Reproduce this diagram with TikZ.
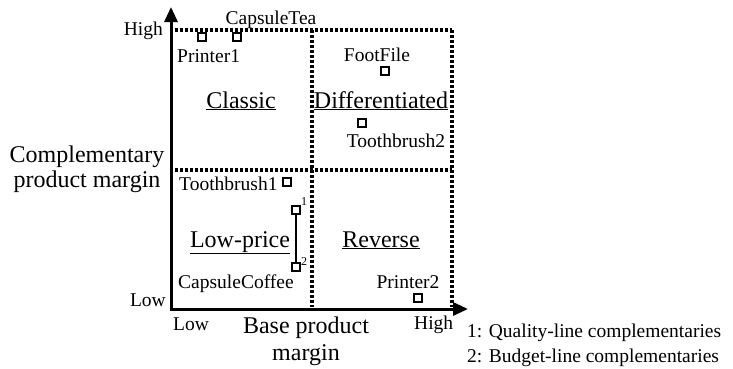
\documentclass[tikz,border=0pt]{standalone}
\usepackage{fontspec}
\setmainfont{Liberation Serif}
\usetikzlibrary{arrows.meta}
\begin{document}
\begin{tikzpicture}[x=1pt,y=-1pt,
 big/.style={font=\fontsize{24}{26}\selectfont, inner sep=0pt},
 small/.style={font=\fontsize{19.5}{21}\selectfont, inner sep=0pt},
 tiny/.style={font=\fontsize{12}{13}\selectfont, inner sep=0pt},
 sq/.style={draw, line width=2pt, minimum size=7.5pt, inner sep=0pt},
 axis/.style={line width=3pt, -{Triangle[width=13pt,length=15pt]}},
 gridline/.style={line width=3.2pt, dash pattern=on 2.6pt off 2.4pt}]
\useasboundingbox (0,0) rectangle (733,368);
% axes
\coordinate (O) at (171,309);
\coordinate (ytip) at (171,7);
\coordinate (xtip) at (468,309);
% dotted quadrant grid
\coordinate (tl) at (175,30);
\coordinate (tr) at (452,30);
\coordinate (br) at (452,307);
\coordinate (tm) at (312,30);
\coordinate (bm) at (312,307);
\coordinate (ml) at (175,170);
\coordinate (mr) at (452,170);
\draw[gridline] (tl) -- (tr);
\draw[gridline] (tr) -- (br);
\draw[gridline] (tm) -- (bm);
\draw[gridline] (ml) -- (mr);
\draw[axis, line cap=butt] ([yshift=1.5pt]O) -- (ytip);
\draw[axis] ([xshift=-1.5pt]O) -- (xtip);
% axis labels
\node[small, anchor=base east] (yhigh) at (163,35) {High};
\node[small, anchor=base east] (ylow) at (166,306) {Low};
\node[small, anchor=base west] (xlow) at (173,330) {Low};
\node[small, anchor=base west] (xhigh) at (414,329) {High};
\node[big, anchor=base] (xt1) at (306,333) {Base product};
\node[big, anchor=base] (xt2) at (306,360) {margin};
\node[big, anchor=base] (yt1) at (87,162) {Complementary};
\node[big, anchor=base] (yt2) at (87,187) {product margin};
% quadrant names
\node[big, anchor=base] (classic) at (241,108) {\underline{Classic}};
\node[big, anchor=base] (diff) at (381,108) {\underline{Differentiated}};
\node[big, anchor=base] (lowp) at (240,247) {\underline{Low-price}};
\node[big, anchor=base] (rev) at (381,247) {\underline{Reverse}};
% items
\node[sq] (p1) at (202,37) {};
\node[sq] (ct) at (237,37) {};
\node[small, anchor=base] (ctl) at (271,24) {CapsuleTea};
\node[small, anchor=base west] (p1l) at (177,62) {Printer1};
\node[small, anchor=base] (ffl) at (377,61) {FootFile};
\node[sq] (ff) at (385,71) {};
\node[sq] (tb2) at (362,123) {};
\node[small, anchor=base] (tb2l) at (396,147) {Toothbrush2};
\node[small, anchor=base west] (tb1l) at (179,190) {Toothbrush1};
\node[sq] (tb1) at (287,182) {};
\node[sq] (q1) at (296,210) {};
\node[sq] (q2) at (296,267) {};
\draw[line width=1.4pt] (q1) -- (q2);
\node[tiny, anchor=center] (n1) at (304,202) {1};
\node[tiny, anchor=center] (n2) at (304,262) {2};
\node[small, anchor=base west] (ccl) at (178,288) {CapsuleCoffee};
\node[small, anchor=base] (p2l) at (408,288) {Printer2};
\node[sq] (p2) at (418,298) {};
% legend
\node[small, anchor=base west] (leg1) at (467,337) {1: Quality-line complementaries};
\node[small, anchor=base west] (leg2) at (467,362) {2: Budget-line complementaries};
\end{tikzpicture}
\end{document}
